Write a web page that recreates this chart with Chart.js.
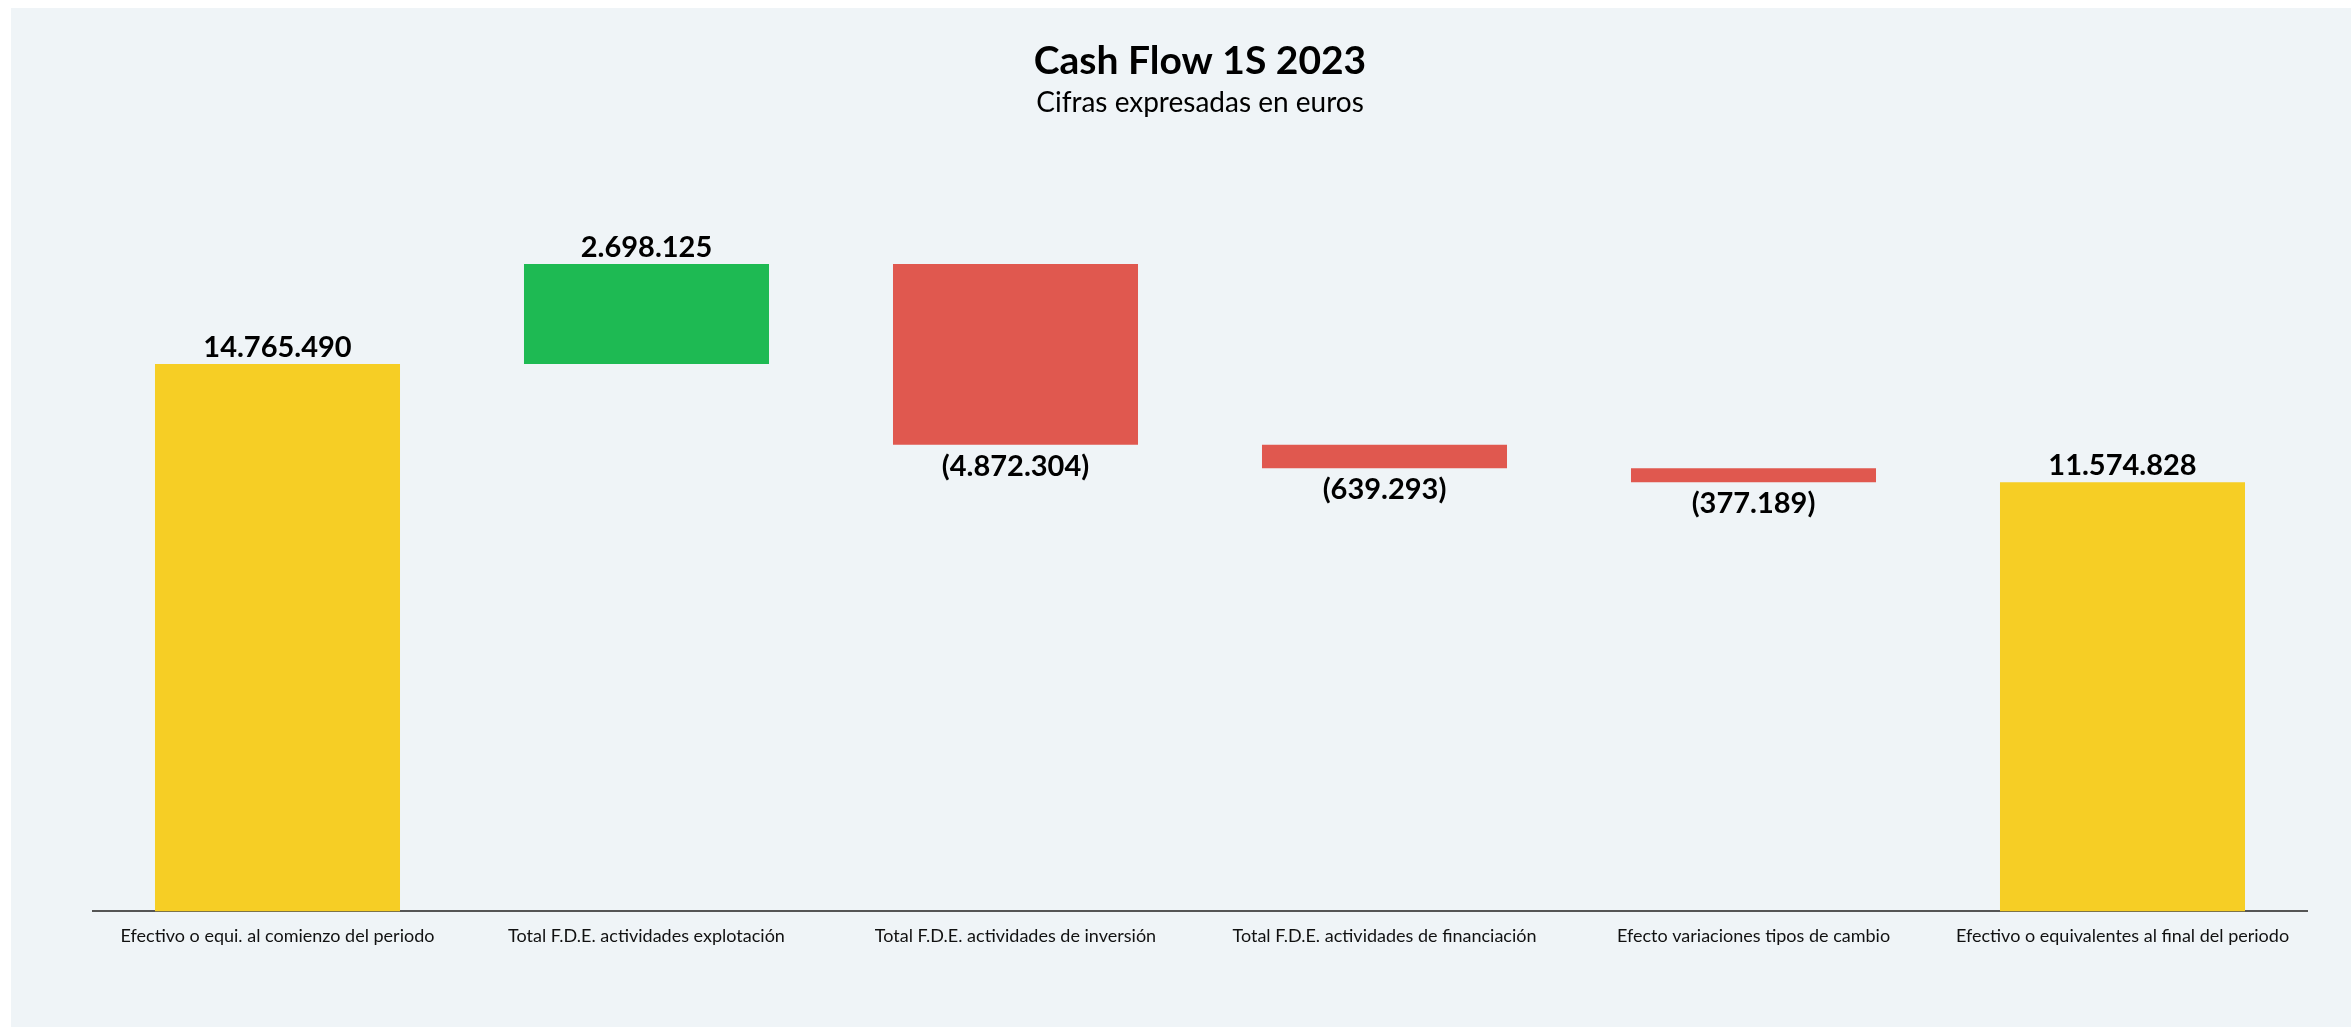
<!DOCTYPE html>
<html>
<head>
<meta charset="utf-8">
<script src="https://cdn.jsdelivr.net/npm/chart.js@4/dist/chart.umd.min.js"></script>
<style>
  html, body { margin: 0; padding: 0; background: #fff; }
  #panel { position: absolute; left: 11px; top: 8px; width: 2340px; height: 1019px; background: #eff4f7; }
</style>
</head>
<body>
<div id="panel"><canvas id="chart" width="2340" height="1019"></canvas></div>
<script>
const categories = [
  'Efectivo o equi. al comienzo del periodo',
  'Total F.D.E. actividades explotación',
  'Total F.D.E. actividades de inversión',
  'Total F.D.E. actividades de financiación',
  'Efecto variaciones tipos de cambio',
  'Efectivo o equivalentes al final del periodo'
];
const flows = [14765490, 2698125, -4872304, -639293, -377189, 11574828];
const kinds = ['total', 'delta', 'delta', 'delta', 'delta', 'total'];

const YELLOW = '#f6ce25';
const GREEN = '#1eba53';
const RED = '#e0584f';
const FONT = 'Lato, "Open Sans", sans-serif';

// barras flotantes: totales desde 0, variaciones desde el acumulado
let running = 0;
const ranges = flows.map((v, i) => {
  if (kinds[i] === 'total') {
    running = v;
    return [0, v];
  }
  const r = [running, running + v];
  running += v;
  return r;
});
const colors = flows.map((v, i) => kinds[i] === 'total' ? YELLOW : (v >= 0 ? GREEN : RED));

function fmt(v) {
  const s = Math.abs(v).toString().replace(/\B(?=(\d{3})+(?!\d))/g, '.');
  return v < 0 ? '(' + s + ')' : s;
}

const valueLabels = {
  id: 'valueLabels',
  afterDatasetsDraw(chart) {
    const c = chart.ctx;
    const meta = chart.getDatasetMeta(0);
    c.save();
    c.font = 'bold 29px ' + FONT;
    c.fillStyle = '#000';
    c.textAlign = 'center';
    c.textBaseline = 'alphabetic';
    meta.data.forEach((bar, i) => {
      const v = flows[i];
      const top = Math.min(bar.y, bar.base);
      const bottom = Math.max(bar.y, bar.base);
      if (v >= 0) c.fillText(fmt(v), bar.x, top - 7);
      else c.fillText(fmt(v), bar.x, bottom + 31);
    });
    c.restore();
  }
};

const ctx = document.getElementById('chart').getContext('2d');
new Chart(ctx, {
  type: 'bar',
  data: {
    labels: categories,
    datasets: [{
      data: ranges,
      backgroundColor: colors,
      borderWidth: 0,
      categoryPercentage: 1,
      barPercentage: 0.664
    }]
  },
  options: {
    responsive: false,
    animation: false,
    layout: { padding: { left: 82, right: 44, top: 0, bottom: 74 } },
    plugins: {
      legend: { display: false },
      tooltip: { enabled: false },
      title: {
        display: true,
        text: 'Cash Flow 1S 2023',
        color: '#000',
        font: { family: FONT, size: 39, weight: 'bold' },
        padding: { top: 30, bottom: 0 }
      },
      subtitle: {
        display: true,
        text: 'Cifras expresadas en euros',
        color: '#000',
        font: { family: FONT, size: 28 },
        padding: { top: 1, bottom: 38 }
      }
    },
    scales: {
      x: {
        grid: { display: false },
        border: { display: true, color: '#555', width: 2 },
        ticks: { color: '#111', font: { family: FONT, size: 18 }, padding: 6, maxRotation: 0, autoSkip: false }
      },
      y: {
        display: false,
        min: 0,
        max: 20340000
      }
    }
  },
  plugins: [valueLabels]
});
</script>
</body>
</html>
